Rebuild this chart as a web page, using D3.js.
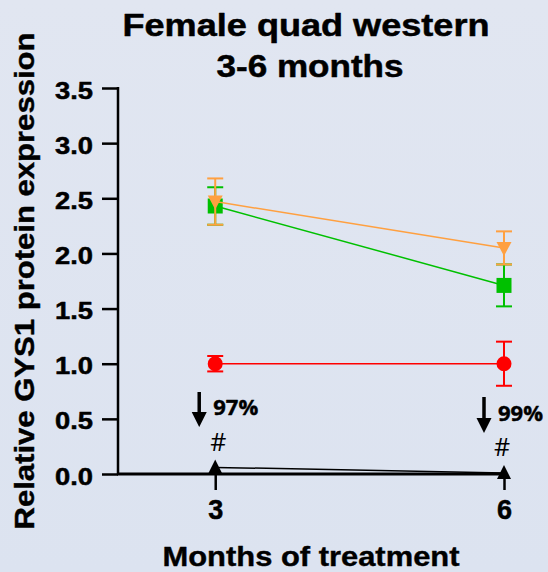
<!DOCTYPE html>
<html><head><meta charset="utf-8">
<script src="https://cdn.jsdelivr.net/npm/d3@7"></script>
<style>
html,body{margin:0;padding:0;background:#dfe5f1;}
svg{display:block;}
text{font-family:"Liberation Sans",Arial,sans-serif;font-weight:bold;fill:#000;}
</style></head>
<body>
<script>
const months = [3, 6];
const yTicks = [0, 0.5, 1.0, 1.5, 2.0, 2.5, 3.0, 3.5];
const redMean = [1.0, 1.0];
const redErr = [0.07, 0.2];
const greenMean = [2.43, 1.71];
const greenErr = [0.17, 0.19];
const orangeMean = [2.47, 2.05];
const orangeErr = [0.21, 0.15];
const blackMean = [0.06, 0.01];
const blackErr = [0, 0];
const annotations = ["97%", "99%"];

const W = 548, H = 572;
const svg = d3.select("body").append("svg").attr("width", W).attr("height", H);
const defs = svg.append("defs");
const grad = defs.append("linearGradient").attr("id","bg").attr("x1",0).attr("y1",0).attr("x2",0).attr("y2",1);
grad.append("stop").attr("offset","0%").attr("stop-color","#e1e6f1");
grad.append("stop").attr("offset","100%").attr("stop-color","#dce3f0");
svg.append("rect").attr("width",W).attr("height",H).attr("fill","url(#bg)");

const x = d3.scaleLinear().domain([1.99, 6]).range([118, 504]);
const y = d3.scaleLinear().domain([0, 3.5]).range([474, 88]);

function stretch(sel, len) {
  sel.attr("textLength", len).attr("lengthAdjust", "spacingAndGlyphs");
}
function heavy(sel, w) {
  sel.attr("stroke", "#000").attr("stroke-width", w).attr("stroke-linejoin","round");
}

// Title
const t1 = svg.append("text").attr("x", 306).attr("y", 36).attr("text-anchor","middle")
  .style("font-size","32px").text("Female quad western");
stretch(t1, 367); heavy(t1, 0.5);
const t2 = svg.append("text").attr("x", 310).attr("y", 77).attr("text-anchor","middle")
  .style("font-size","32px").text("3-6 months");
stretch(t2, 187); heavy(t2, 0.5);

// Y axis
const yAxis = svg.append("g").attr("transform","translate(118,0)")
  .call(d3.axisLeft(y).tickValues(yTicks).tickFormat(d3.format(".1f")).tickSize(16).tickPadding(9));
yAxis.select(".domain").attr("stroke","#000").attr("stroke-width",2.5).attr("d","M0,87V474");
yAxis.selectAll(".tick line").attr("stroke","#000").attr("stroke-width",2.5);
const ytx = yAxis.selectAll(".tick text").style("font-size","24px").style("font-family","'Liberation Sans',Arial,sans-serif")
  .style("font-weight","bold").attr("fill","#000").attr("dy","0.42em");
stretch(ytx, 38); heavy(ytx, 0.5);

// X axis
const xAxis = svg.append("g").attr("transform","translate(0,474)")
  .call(d3.axisBottom(x).tickValues(months).tickFormat(d3.format("d")).tickSize(16).tickPadding(10));
xAxis.select(".domain").attr("stroke","#000").attr("stroke-width",3).attr("d","M117,0H505");
xAxis.selectAll(".tick line").attr("stroke","#000").attr("stroke-width",2.5);
const xtx = xAxis.selectAll(".tick text").style("font-size","27px").style("font-family","'Liberation Sans',Arial,sans-serif")
  .style("font-weight","bold").attr("fill","#000");
heavy(xtx, 0.5);

// Axis titles
const yl = svg.append("text").attr("transform","translate(34,281) rotate(-90)").attr("text-anchor","middle")
  .style("font-size","28px").text("Relative GYS1 protein expression");
stretch(yl, 497); heavy(yl, 0.4);
const xl = svg.append("text").attr("x", 311).attr("y", 566).attr("text-anchor","middle")
  .style("font-size","28px").text("Months of treatment");
stretch(xl, 297); heavy(xl, 0.4);

function series(means, errs, color, lw) {
  const g = svg.append("g");
  const pts = months.map((m,i)=>({m, v: means[i], e: errs[i]}));
  g.append("path").datum(pts).attr("fill","none").attr("stroke",color).attr("stroke-width",lw)
    .attr("d", d3.line().x(d=>x(d.m)).y(d=>y(d.v)));
  pts.forEach(d=>{
    if (d.e > 0) {
      g.append("line").attr("x1",x(d.m)).attr("x2",x(d.m)).attr("y1",y(d.v-d.e)).attr("y2",y(d.v+d.e))
        .attr("stroke",color).attr("stroke-width",2);
      [d.v-d.e, d.v+d.e].forEach(v=>{
        g.append("line").attr("x1",x(d.m)-8).attr("x2",x(d.m)+8).attr("y1",y(v)).attr("y2",y(v))
          .attr("stroke",color).attr("stroke-width",2);
      });
    }
  });
  return {g, pts};
}

function drawMarkers(s, color, type) {
  s.pts.forEach(d=>{
    const cx = x(d.m), cy = y(d.v);
    if (type === "circle") {
      s.g.append("circle").attr("cx",cx).attr("cy",cy).attr("r",7.5).attr("fill",color);
    } else if (type === "square") {
      s.g.append("rect").attr("x",cx-7.5).attr("y",cy-7.5).attr("width",15).attr("height",15).attr("fill",color);
    } else if (type === "down") {
      s.g.append("path").attr("d",`M${cx-7.5},${cy-6}L${cx+7.5},${cy-6}L${cx},${cy+8}Z`).attr("fill",color);
    } else if (type === "up") {
      s.g.append("path").attr("d",`M${cx-7},${cy+6}L${cx+7},${cy+6}L${cx},${cy-8}Z`).attr("fill",color);
    }
  });
}

const sRed = series(redMean, redErr, "#ff0000", 1.5);
drawMarkers(sRed, "#ff0000", "circle");
const sGreen = series(greenMean, greenErr, "#00c000", 1.5);
drawMarkers(sGreen, "#00c000", "square");
const sOrange = series(orangeMean, orangeErr, "#ffa040", 1.5);
drawMarkers(sOrange, "#ffa040", "down");
const sBlack = series(blackMean, blackErr, "#000000", 1.5);
drawMarkers(sBlack, "#000000", "up");

// Annotations: arrows, percentages and #
const annY = [[392, 427, 415, 451], [397, 433, 421, 456]];
months.forEach((m,i)=>{
  const ax = x(m) - (i===0 ? 16 : 20);
  const [t, b, py, hy] = annY[i];
  svg.append("line").attr("x1",ax).attr("x2",ax).attr("y1",t).attr("y2",b-10).attr("stroke","#000").attr("stroke-width",3.5);
  svg.append("path").attr("d",`M${ax-7.5},${b-15}L${ax+7.5},${b-15}L${ax},${b}Z`).attr("fill","#000");
  const pt = svg.append("text").attr("x", ax+14).attr("y", py).style("font-family","'Open Sans','DejaVu Sans',sans-serif")
    .style("font-size","21px").text(annotations[i]);
  stretch(pt, 45); heavy(pt, 0.4);
  svg.append("text").attr("x", x(m)+(i===0?3:-2)).attr("y", hy).attr("text-anchor","middle")
    .style("font-family","'Open Sans','DejaVu Sans',sans-serif").style("font-weight","normal").style("font-size","25px").text("#");
});
</script>
</body></html>
